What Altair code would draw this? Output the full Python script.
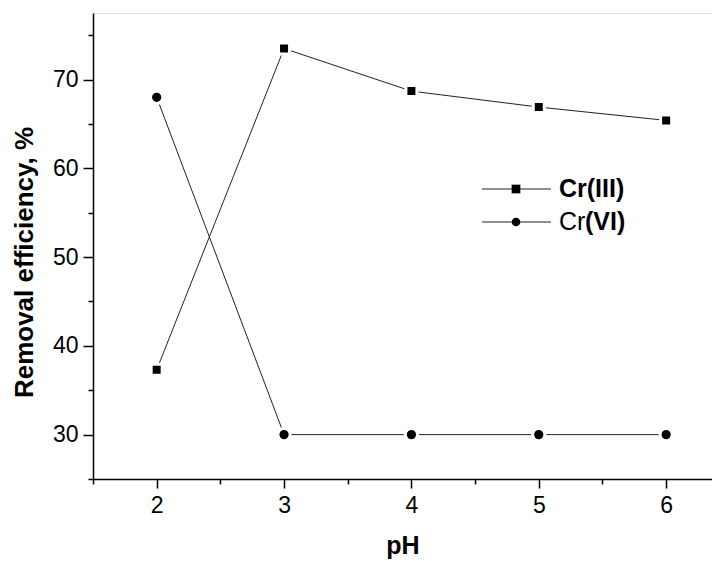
import altair as alt
import pandas as pd

# ---- data ----
ph = [2, 3, 4, 5, 6]
cr3 = [37.3, 73.5, 68.7, 66.9, 65.4]
cr6 = [68.0, 30.0, 30.0, 30.0, 30.0]
series_names = ["Cr(III)", "Cr(VI)"]
legend_prefix = ["Cr", "Cr"]
legend_suffix = ["(III)", "(VI)"]

x_major = [2, 3, 4, 5, 6]
x_minor = [1.5, 2.5, 3.5, 4.5, 5.5]
y_major = [30, 40, 50, 60, 70]
y_minor = [25, 35, 45, 55, 65, 75]

rows = []
for name, vals in zip(series_names, [cr3, cr6]):
    for p, v in zip(ph, vals):
        rows.append({"pH": p, "eff": v, "series": name})
df = pd.DataFrame(rows)
leg = pd.DataFrame({"series": series_names, "prefix": legend_prefix, "suffix": legend_suffix})

FONT = "Liberation Sans"
xs = alt.Scale(domain=[1.5, 6.36], nice=False, zero=False)
ys = alt.Scale(domain=[25, 77.5], nice=False, zero=False)
shape_scale = alt.Scale(domain=series_names, range=["square", "circle"])
leg_y = alt.Scale(type="point", domain=series_names, range=[176, 209], padding=0)

major_x_axis = alt.Axis(values=x_major, title="pH", orient="bottom", grid=False,
                        tickSize=9, tickWidth=1.5, tickColor="black",
                        domainColor="black", domainWidth=1.5,
                        labelFont=FONT, labelFontSize=23, labelColor="black",
                        labelPadding=6, titleFont=FONT, titleFontSize=25,
                        titleFontWeight="bold", titleColor="black", titlePadding=16)
major_y_axis = alt.Axis(values=y_major, title="Removal efficiency, %", orient="left",
                        grid=False, tickSize=10, tickWidth=1.5, tickColor="black",
                        domainColor="black", domainWidth=1.5,
                        labelFont=FONT, labelFontSize=23, labelColor="black",
                        labelPadding=5, titleFont=FONT, titleFontSize=26,
                        titleFontWeight="bold", titleColor="black", titlePadding=15,
                        titleY=249)
minor_x_axis = alt.Axis(values=x_minor, title=None, orient="bottom", grid=False,
                        labels=False, domain=False, tickSize=5, tickWidth=1.5,
                        tickColor="black")
minor_y_axis = alt.Axis(values=y_minor, title=None, orient="left", grid=False,
                        labels=False, domain=False, tickSize=5, tickWidth=1.5,
                        tickColor="black")

lines = alt.Chart(df).mark_line(color="#222222", strokeWidth=1).encode(
    x=alt.X("pH:Q", scale=xs, axis=major_x_axis),
    y=alt.Y("eff:Q", scale=ys, axis=major_y_axis),
    detail="series:N",
)

points = alt.Chart(df).mark_point(filled=True, fill="black", stroke="white",
                                  strokeWidth=3, opacity=1).encode(
    x=alt.X("pH:Q", scale=xs, axis=minor_x_axis),
    y=alt.Y("eff:Q", scale=ys, axis=minor_y_axis),
    shape=alt.Shape("series:N", scale=shape_scale, legend=None),
    size=alt.Size("series:N", scale=alt.Scale(domain=series_names, range=[121, 150]), legend=None),
)

leg_rule = alt.Chart(leg).mark_rule(color="#222222", strokeWidth=1).encode(
    x=alt.value(389), x2=alt.value(458),
    y=alt.Y("series:N", scale=leg_y, axis=None),
)
leg_pts = alt.Chart(leg).mark_point(filled=True, fill="black", opacity=1, size=75).encode(
    x=alt.value(423),
    y=alt.Y("series:N", scale=leg_y, axis=None),
    shape=alt.Shape("series:N", scale=shape_scale, legend=None),
)
leg_txt1 = alt.Chart(leg).transform_filter(alt.datum.series == "Cr(III)").mark_text(
    align="left", baseline="middle", font=FONT, fontSize=25, fontWeight="bold", color="black"
).encode(
    x=alt.value(466),
    y=alt.Y("series:N", scale=leg_y, axis=None),
    text="series:N",
)
leg_txt2a = alt.Chart(leg).transform_filter(alt.datum.series == "Cr(VI)").mark_text(
    align="left", baseline="middle", font=FONT, fontSize=25, fontWeight="normal", color="black"
).encode(
    x=alt.value(466),
    y=alt.Y("series:N", scale=leg_y, axis=None),
    text="prefix:N",
)
leg_txt2b = alt.Chart(leg).transform_filter(alt.datum.series == "Cr(VI)").mark_text(
    align="left", baseline="middle", font=FONT, fontSize=25, fontWeight="bold", color="black"
).encode(
    x=alt.value(492),
    y=alt.Y("series:N", scale=leg_y, axis=None),
    text="suffix:N",
)

chart = alt.layer(lines, points, leg_rule, leg_pts, leg_txt1, leg_txt2a, leg_txt2b).resolve_scale(
    y="independent"
).resolve_axis(
    x="independent", y="independent"
).properties(
    width=619, height=466,
    autosize=alt.AutoSizeParams(type="none"),
    padding={"left": 85, "top": 5, "right": 0, "bottom": 80},
).configure_view(stroke=None).configure(background="white")

chart.save("out.html", embed_options={"renderer": "svg", "actions": False})
